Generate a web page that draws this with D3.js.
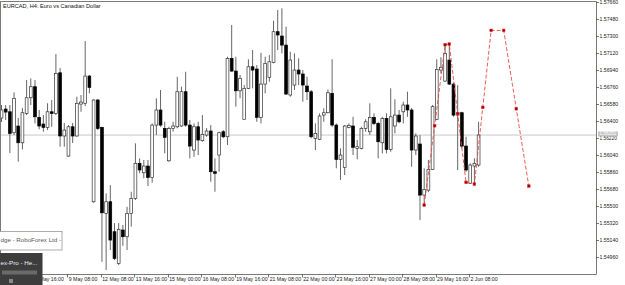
<!DOCTYPE html>
<html><head><meta charset="utf-8">
<script src="https://cdn.jsdelivr.net/npm/d3@7"></script>
<style>html,body{margin:0;padding:0;background:#fff;overflow:hidden}</style>
</head><body>
<svg id="c" width="625" height="285"></svg>
<script>
const title = "EURCAD, H4:  Euro vs Canadian Dollar";
const opens = [1.56432,1.56527,1.56498,1.56276,1.56347,1.56169,1.56481,1.56647,1.56764,1.56439,
1.56368,1.56333,1.56498,1.56481,1.56912,1.56241,1.56028,1.56339,1.56241,1.56580,
1.56588,1.56877,1.55543,1.56623,1.56333,1.55420,1.55543,1.55225,1.54889,1.55243,
1.55172,1.55420,1.55579,1.55951,1.55851,1.55922,1.55802,1.56357,1.56517,1.56322,
1.55978,1.56322,1.56339,1.56347,1.56711,1.56357,1.56092,1.56339,1.56191,1.56251,
1.56294,1.55862,1.56039,1.56286,1.56233,1.57065,1.56930,1.56721,1.56418,1.56747,
1.56976,1.56952,1.56439,1.56792,1.56864,1.57023,1.57348,1.57302,1.57206,1.56676,
1.56782,1.56941,1.56899,1.56771,1.56711,1.56216,1.56206,1.56463,1.56488,1.56694,
1.56357,1.55993,1.55908,1.56333,1.56347,1.56110,1.56110,1.56322,1.56286,1.56439,
1.56375,1.56169,1.56428,1.56099,1.56347,1.56463,1.56498,1.56570,1.56517,1.56092,
1.56156,1.55614,1.55667,1.55887,1.56418,1.56941,1.56824,1.57047,1.56792,1.56463,
1.56488,1.56134,1.55738,1.55922,1.55933];
const highs = [1.56570,1.56570,1.56570,1.56704,1.56432,1.56538,1.56835,1.56853,1.56835,1.56517,
1.56463,1.56588,1.56623,1.57111,1.56962,1.56379,1.56357,1.56379,1.56658,1.56676,
1.57249,1.56888,1.56630,1.56633,1.56339,1.55632,1.55720,1.55317,1.55317,1.55296,
1.55490,1.55649,1.56163,1.56004,1.55986,1.55986,1.56375,1.56641,1.56729,1.56392,
1.56339,1.56392,1.56870,1.56764,1.56923,1.56410,1.56375,1.56392,1.56463,1.56325,
1.56357,1.56004,1.56286,1.56304,1.57082,1.57419,1.57082,1.56888,1.56782,1.57055,
1.57153,1.56994,1.57125,1.57082,1.57100,1.57464,1.57578,1.57596,1.57401,1.57135,
1.57118,1.57065,1.56941,1.56870,1.56729,1.56375,1.56481,1.56535,1.56736,1.57055,
1.56375,1.56110,1.56357,1.56375,1.56445,1.56198,1.56339,1.56418,1.56588,1.56481,
1.56392,1.56445,1.56481,1.56747,1.56630,1.56517,1.56605,1.56711,1.56538,1.56269,
1.56251,1.55898,1.55986,1.56570,1.57055,1.57076,1.57206,1.57206,1.56806,1.56782,
1.56498,1.56233,1.55951,1.56004,1.56392];
const lows = [1.56389,1.56410,1.56060,1.56251,1.55968,1.56099,1.56463,1.56570,1.56375,1.56312,
1.56286,1.56304,1.56339,1.56463,1.56127,1.56127,1.56021,1.56166,1.56233,1.56498,
1.56559,1.56694,1.55533,1.56304,1.54906,1.54818,1.55031,1.54924,1.54871,1.55076,
1.55031,1.55278,1.55561,1.55845,1.55792,1.55710,1.55745,1.56251,1.56339,1.56057,
1.55968,1.56286,1.56322,1.56339,1.56339,1.56004,1.56021,1.56039,1.56180,1.56233,
1.55755,1.55649,1.55862,1.56219,1.56145,1.56923,1.56552,1.56641,1.56418,1.56739,
1.56747,1.56392,1.56375,1.56694,1.56817,1.57012,1.57153,1.57118,1.56676,1.56658,
1.56729,1.56782,1.56605,1.56623,1.56216,1.56092,1.56198,1.56392,1.56481,1.56339,
1.55898,1.55774,1.55827,1.56322,1.56039,1.55993,1.56099,1.56286,1.56251,1.56357,
1.56004,1.56057,1.56057,1.56074,1.56269,1.56375,1.56375,1.56445,1.55915,1.56039,
1.55349,1.55508,1.55646,1.55880,1.56410,1.56906,1.56814,1.56782,1.56445,1.55880,
1.56110,1.55862,1.55731,1.55738,1.55915];
const closes = [1.56517,1.56495,1.56269,1.56641,1.56169,1.56488,1.56647,1.56764,1.56445,1.56347,
1.56333,1.56498,1.56481,1.56906,1.56241,1.56304,1.56339,1.56241,1.56588,1.56601,
1.56877,1.56757,1.56623,1.56322,1.55426,1.55543,1.55137,1.54942,1.55250,1.55172,
1.55420,1.55579,1.55951,1.55880,1.55922,1.55802,1.56357,1.56517,1.56357,1.56227,
1.56322,1.56347,1.56711,1.56711,1.56357,1.56134,1.56339,1.56198,1.56259,1.56294,
1.55862,1.55845,1.56276,1.56233,1.57065,1.56930,1.56721,1.56853,1.56747,1.56976,
1.56941,1.56439,1.56792,1.57012,1.57029,1.57348,1.57313,1.57206,1.56686,1.57047,
1.56941,1.56899,1.56782,1.56711,1.56233,1.56269,1.56453,1.56488,1.56700,1.56357,
1.55993,1.56039,1.56347,1.56354,1.56121,1.56127,1.56322,1.56392,1.56439,1.56375,
1.56180,1.56428,1.56099,1.56445,1.56463,1.56392,1.56570,1.56517,1.56092,1.56241,
1.55614,1.55675,1.55887,1.56552,1.56948,1.56970,1.57118,1.56792,1.56463,1.56488,
1.56134,1.55880,1.55933,1.55951,1.56251];
const timeTickBars = [8,16,24,32,40,48,56,64,72,80,88,96,104,112];
const timeTickLabels = ["8 May 16:00","9 May 08:00","12 May 08:00","13 May 16:00","15 May 00:00","16 May 08:00","19 May 16:00","21 May 08:00","22 May 00:00","23 May 16:00","27 May 00:00","28 May 08:00","29 May 16:00","2 Jun 08:00"];
const priceTicks = [1.57660,1.57480,1.57300,1.57120,1.56940,1.56760,1.56580,1.56400,1.56220,1.56040,1.55860,1.55680,1.55500,1.55320,1.55140,1.54960];
const zigzagBars = [101,103.5,106,107,109,111,113,115,117,120,123,126];
const zigzagPrices = [1.55508,1.56350,1.57210,1.57217,1.56479,1.55749,1.55731,1.56545,1.57362,1.57362,1.56530,1.55710];
const bidPrice = 1.56251;
const bidLabel = "1.56251";
const overlayText1 = "dge - RoboForex Ltd -";
const overlayText2 = "ex-Pro - He...";

const svg = d3.select("#c");
const W = 625, H = 285;
const plotRight = 596, plotBottom = 274;
const x = d3.scaleLinear().domain([0, 114]).range([1.5, 478.6]);
const y = d3.scaleLinear().domain([1.5766, 1.5496]).range([2.3, 256.7]);
const font = "Liberation Sans, Arial, sans-serif";

svg.append("rect").attr("width", W).attr("height", H).attr("fill", "#fff");

svg.append("defs").append("clipPath").attr("id", "plot")
  .append("rect").attr("x", 1).attr("y", 2).attr("width", plotRight - 1).attr("height", plotBottom - 2);

const g = svg.append("g").attr("clip-path", "url(#plot)");

// bid line
g.append("line").attr("x1", 0).attr("x2", plotRight).attr("y1", y(bidPrice)).attr("y2", y(bidPrice))
  .attr("stroke", "#c8c8c8").attr("stroke-width", 1);

const data = opens.map((o, i) => ({i, o, h: highs[i], l: lows[i], c: closes[i]}));

const cg = g.append("g");
cg.selectAll("line.wick").data(data).join("line")
  .attr("class", "wick")
  .attr("x1", d => x(d.i)).attr("x2", d => x(d.i))
  .attr("y1", d => y(d.h)).attr("y2", d => y(d.l))
  .attr("stroke", "#555").attr("stroke-width", 0.9);

cg.selectAll("rect.body").data(data).join("rect")
  .attr("class", "body")
  .attr("x", d => x(d.i) - 1.4)
  .attr("width", 2.8)
  .attr("y", d => y(Math.max(d.o, d.c)))
  .attr("height", d => Math.max(0.8, Math.abs(y(d.o) - y(d.c))))
  .attr("fill", d => d.c >= d.o ? "#fff" : "#000")
  .attr("stroke", d => d.c >= d.o ? "#333" : "#000")
  .attr("stroke-width", 0.7);

// zigzag
const zz = zigzagBars.map((b, k) => ({b, p: zigzagPrices[k]}));
g.append("path").datum(zz)
  .attr("d", d3.line().x(d => x(d.b)).y(d => y(d.p)))
  .attr("fill", "none").attr("stroke", "#ea4a46").attr("stroke-width", 0.9)
  .attr("stroke-dasharray", "4,2");
g.selectAll("rect.zz").data(zz).join("rect")
  .attr("class", "zz")
  .attr("x", d => x(d.b) - 1.3).attr("y", d => y(d.p) - 1.3)
  .attr("width", 2.6).attr("height", 2.6)
  .attr("fill", "#8b0000").attr("stroke", "#f03030").attr("stroke-width", 0.6);

// frame
svg.append("line").attr("x1", 0).attr("x2", plotRight + 0.5).attr("y1", 1.5).attr("y2", 1.5).attr("stroke", "#7a7a7a");
svg.append("line").attr("x1", 0.5).attr("x2", 0.5).attr("y1", 1.5).attr("y2", plotBottom).attr("stroke", "#7a7a7a");
svg.append("line").attr("x1", plotRight + 0.5).attr("x2", plotRight + 0.5).attr("y1", 1.5).attr("y2", plotBottom + 0.5).attr("stroke", "#7a7a7a");
svg.append("line").attr("x1", 0).attr("x2", plotRight + 0.5).attr("y1", plotBottom + 0.5).attr("y2", plotBottom + 0.5).attr("stroke", "#7a7a7a");

// title
svg.append("text").attr("x", 3).attr("y", 8).attr("font-family", font).attr("font-size", 5.6)
  .attr("fill", "#111").text(title);

// price axis
const pa = svg.append("g");
pa.selectAll("line").data(priceTicks).join("line")
  .attr("x1", plotRight).attr("x2", plotRight + 3)
  .attr("y1", d => Math.round(y(d)) + 0.5).attr("y2", d => Math.round(y(d)) + 0.5)
  .attr("stroke", "#555").attr("stroke-width", 0.8);
// the tick label hidden behind the bid box sits just below it, as in the original
const bidNear = d => Math.abs(y(d) - y(bidPrice)) < 6;
pa.selectAll("text").data(priceTicks).join("text")
  .attr("x", plotRight + 3.5).attr("y", d => y(d) + (bidNear(d) ? 2.4 : 1.9))
  .attr("font-family", font).attr("font-size", d => bidNear(d) ? 4.8 : 5.2).attr("fill", "#222")
  .text(d => d.toFixed(5));
pa.append("rect").attr("x", plotRight + 2).attr("y", y(bidPrice) - 3.6).attr("width", 20).attr("height", 5.0)
  .attr("fill", "#c4c4c4");
pa.append("text").attr("x", plotRight + 3.5).attr("y", y(bidPrice) + 0.1)
  .attr("font-family", font).attr("font-size", 4.6).attr("fill", "#fff").text(bidLabel);

// time axis
const ta = svg.append("g");
ta.selectAll("line").data(timeTickBars).join("line")
  .attr("x1", d => Math.round(x(d) - 1) + 0.5).attr("x2", d => Math.round(x(d) - 1) + 0.5)
  .attr("y1", plotBottom).attr("y2", plotBottom + 3.5)
  .attr("stroke", "#555").attr("stroke-width", 0.8);
ta.selectAll("text").data(timeTickBars).join("text")
  .attr("x", d => x(d) + 0.3).attr("y", plotBottom + 6.6)
  .attr("font-family", font).attr("font-size", 5.2).attr("fill", "#222")
  .text((d, k) => timeTickLabels[k]);

// overlay windows (bottom-left)
svg.append("rect").attr("x", -1).attr("y", 231.5).attr("width", 63).attr("height", 18.5)
  .attr("fill", "#fff").attr("stroke", "#9a9a9a").attr("stroke-width", 0.8);
svg.append("text").attr("x", 0.5).attr("y", 241.5).attr("font-family", font).attr("font-size", 6.2)
  .attr("fill", "#555").text(overlayText1);
svg.append("rect").attr("x", -1).attr("y", 253).attr("width", 43.5).attr("height", 33)
  .attr("fill", "#3d3d3d");
svg.append("text").attr("x", 0.5).attr("y", 265).attr("font-family", font).attr("font-size", 6.2)
  .attr("fill", "#f0f0f0").text(overlayText2);
svg.append("rect").attr("x", 2).attr("y", 270.5).attr("width", 35).attr("height", 4)
  .attr("fill", "#6a6a6a");
svg.append("rect").attr("x", 9).attr("y", 279).attr("width", 4).attr("height", 4)
  .attr("fill", "#8a8a8a");
</script>
</body></html>
